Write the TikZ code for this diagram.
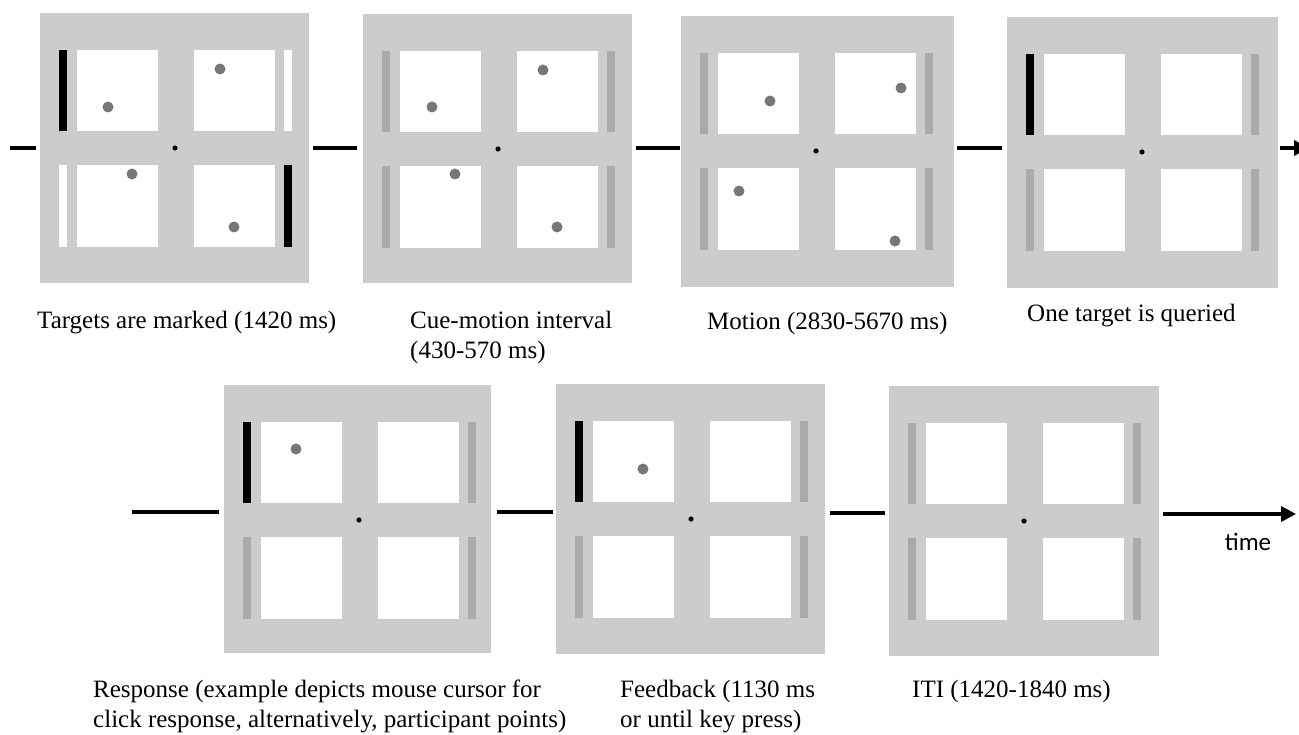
\documentclass[tikz,border=0pt]{standalone}
\usepackage{fontspec}
\setmainfont{Liberation Serif}
\newfontfamily\timefont{Carlito}
\usetikzlibrary{arrows.meta}
\definecolor{panelgray}{RGB}{204,204,204}
\definecolor{bargray}{RGB}{170,170,170}
\definecolor{dotgray}{RGB}{119,119,119}
% #1 name, #2 x, #3 y, #4 left-top bar, #5 left-bottom bar, #6 right-top bar, #7 right-bottom bar, #8 width, #9 height
\newcommand\trialpanel[9]{%
  \node[panelbox, minimum width=#8pt, minimum height=#9pt] (#1) at (#2,#3) {};
  \begin{scope}[shift={(#2,#3)}]
    \fill[white] (37,37) rectangle (118,118);
    \fill[white] (154,37) rectangle (235,118);
    \fill[white] (37,152) rectangle (118,234);
    \fill[white] (154,152) rectangle (235,234);
    \fill[#4] (19,37) rectangle (27,118);
    \fill[#5] (19,152) rectangle (27,234);
    \fill[#6] (244,37) rectangle (252,118);
    \fill[#7] (244,152) rectangle (252,234);
    \fill[black] (135,135) circle[radius=2.6pt];
  \end{scope}}
\begin{document}
\begin{tikzpicture}[x=1pt,y=-1pt,
  panelbox/.style={rectangle, fill=panelgray, draw=none, inner sep=0pt, anchor=north west},
  conn/.style={line width=3.5pt, black},
  timearrow/.style={conn, -{Triangle[length=15pt,width=15pt]}},
  ball/.style={fill=dotgray},
  lbltext/.style={font=\fontsize{25}{30}\selectfont, inner sep=0pt, anchor=base west, align=left}]
\clip (0,0) rectangle (1299,735);
\fill[white] (0,0) rectangle (1299,735);

% row 1 panels
\trialpanel{p1}{40}{13}{black}{white}{white}{black}{269}{270}
\trialpanel{p2}{363}{14}{bargray}{bargray}{bargray}{bargray}{269}{269}
\trialpanel{p3}{681}{16}{bargray}{bargray}{bargray}{bargray}{273}{271}
\trialpanel{p4}{1007}{17}{black}{bargray}{bargray}{bargray}{271}{271}
% row 2 panels
\trialpanel{p5}{224}{385}{black}{bargray}{bargray}{bargray}{267}{268}
\trialpanel{p6}{556}{384}{black}{bargray}{bargray}{bargray}{269}{270}
\trialpanel{p7}{889}{386}{bargray}{bargray}{bargray}{bargray}{270}{270}

% moving dots
\fill[ball] (108,107) circle[radius=5.5pt];
\fill[ball] (220,69) circle[radius=5.5pt];
\fill[ball] (132,174) circle[radius=5.5pt];
\fill[ball] (234,227) circle[radius=5.5pt];
\fill[ball] (432,107) circle[radius=5.5pt];
\fill[ball] (543,70) circle[radius=5.5pt];
\fill[ball] (455,174) circle[radius=5.5pt];
\fill[ball] (557,227) circle[radius=5.5pt];
\fill[ball] (770,101) circle[radius=5.5pt];
\fill[ball] (901,88) circle[radius=5.5pt];
\fill[ball] (739,191) circle[radius=5.5pt];
\fill[ball] (895,241) circle[radius=5.5pt];
\fill[ball] (296,449) circle[radius=5.5pt];
\fill[ball] (643,469) circle[radius=5.5pt];

% timeline connectors, row 1
\coordinate (a0) at (10,148);   \coordinate (b0) at (36,148);
\coordinate (a1) at (313,148);  \coordinate (b1) at (357,148);
\coordinate (a2) at (636,148);  \coordinate (b2) at (680,148);
\coordinate (a3) at (957,148);  \coordinate (b3) at (1002,148);
\coordinate (a4) at (1280,148); \coordinate (b4) at (1309,148);
\draw[conn] (a0) -- (b0);
\draw[conn] (a1) -- (b1);
\draw[conn] (a2) -- (b2);
\draw[conn] (a3) -- (b3);
\draw[timearrow] (a4) -- (b4);
% row 2
\coordinate (a5) at (132,512);  \coordinate (b5) at (219,512);
\coordinate (a6) at (497,512);  \coordinate (b6) at (553,512);
\coordinate (a7) at (830,513);  \coordinate (b7) at (885,513);
\coordinate (a8) at (1163,514); \coordinate (b8) at (1296,514);
\draw[conn] (a5) -- (b5);
\draw[conn] (a6) -- (b6);
\draw[conn] (a7) -- (b7);
\draw[timearrow] (a8) -- (b8);

\node[font=\timefont\fontsize{25}{30}\selectfont, inner sep=0pt, anchor=base] (tlabel) at (1248,550) {time};

% captions (base anchor = baseline of the last line)
\node[lbltext] (t1) at (37,329) {Targets are marked (1420 ms)};
\node[lbltext] (t2) at (410,359) {Cue-motion interval\\(430-570 ms)};
\node[lbltext] (t3) at (707,330) {Motion (2830-5670 ms)};
\node[lbltext] (t4) at (1027,322) {One target is queried};
\node[lbltext] (t5) at (93,727) {Response (example depicts mouse cursor for\\click response, alternatively, participant points)};
\node[lbltext] (t6) at (620,727) {Feedback (1130 ms\\or until key press)};
\node[lbltext] (t7) at (912,697) {ITI (1420-1840 ms)};
\end{tikzpicture}
\end{document}
